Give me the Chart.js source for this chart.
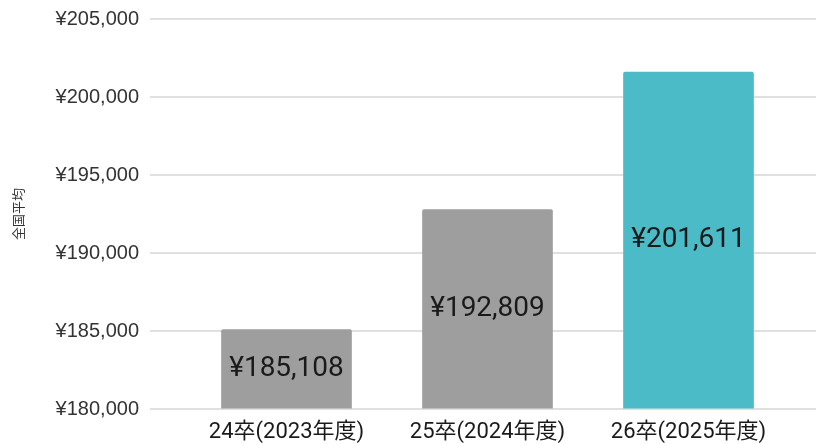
<!DOCTYPE html>
<html>
<head>
<meta charset="utf-8">
<script src="https://cdn.jsdelivr.net/npm/chart.js@4"></script>
<style>
  html, body { margin: 0; padding: 0; background: #fff; overflow: hidden; }
  canvas { display: block; }
</style>
</head>
<body>
<canvas id="salaryChart" width="816" height="444"></canvas>
<script>
// データ
var categories = ['24卒(2023年度)', '25卒(2024年度)', '26卒(2025年度)'];
var averageSalary = [185108, 192809, 201611];
var barColors = ['#9e9e9e', '#9e9e9e', '#4bbcc7'];
var yTitle = '全国平均';

function yen(v) {
  return '¥' + Number(v).toLocaleString('ja-JP');
}

// 横のグリッド線を左右いっぱいに引く
var fullGrid = {
  id: 'fullGrid',
  beforeDatasetsDraw: function(chart) {
    var c = chart.ctx;
    var y = chart.scales.y;
    c.save();
    c.strokeStyle = '#e0e0e0';
    c.lineWidth = 2;
    y.ticks.forEach(function(t) {
      var py = Math.round(y.getPixelForValue(t.value));
      c.beginPath();
      c.moveTo(150, py);
      c.lineTo(chart.width, py);
      c.stroke();
    });
    c.restore();
  }
};

// 棒の中央に金額を表示
var barLabels = {
  id: 'barLabels',
  afterDatasetsDraw: function(chart) {
    var c = chart.ctx;
    var meta = chart.getDatasetMeta(0);
    c.save();
    c.font = '28px Roboto, sans-serif';
    c.fillStyle = '#1a1a1a';
    c.textAlign = 'center';
    c.textBaseline = 'middle';
    meta.data.forEach(function(bar, i) {
      var p = bar.getCenterPoint();
      c.fillText(yen(averageSalary[i]), p.x, p.y);
    });
    c.restore();
  }
};

var myChart = new Chart(document.getElementById('salaryChart'), {
  type: 'bar',
  data: {
    labels: categories,
    datasets: [{
      label: yTitle,
      data: averageSalary,
      base: 180000,
      backgroundColor: barColors,
      borderRadius: 2,
      borderSkipped: 'bottom',
      categoryPercentage: 1,
      barPercentage: 0.65
    }]
  },
  options: {
    responsive: false,
    animation: false,
    layout: { padding: { top: 0, right: 27, left: 6, bottom: 0 } },
    plugins: {
      legend: { display: false },
      tooltip: { enabled: false }
    },
    scales: {
      x: {
        grid: { display: false },
        border: { display: false },
        ticks: {
          color: '#1a1a1a',
          padding: 2,
          font: { size: 22, family: 'Roboto, "Noto Sans CJK JP", sans-serif' }
        },
        afterFit: function(scale) { scale.height = 35; }
      },
      y: {
        min: 180000,
        max: 205000,
        grid: {
          drawOnChartArea: false,
          drawTicks: true,
          tickLength: 40,
          tickColor: 'rgba(0,0,0,0)'
        },
        border: { display: false },
        ticks: {
          stepSize: 5000,
          color: '#333',
          padding: 7,
          font: { size: 20, family: '"Liberation Sans", Arial, sans-serif' },
          callback: function(v) { return yen(v); }
        },
        title: {
          display: true,
          text: yTitle,
          color: '#333',
          font: { size: 13, family: '"Noto Sans CJK JP", sans-serif' }
        },
        afterFit: function(scale) { scale.width = 180; }
      }
    }
  },
  plugins: [fullGrid, barLabels]
});
</script>
</body>
</html>
